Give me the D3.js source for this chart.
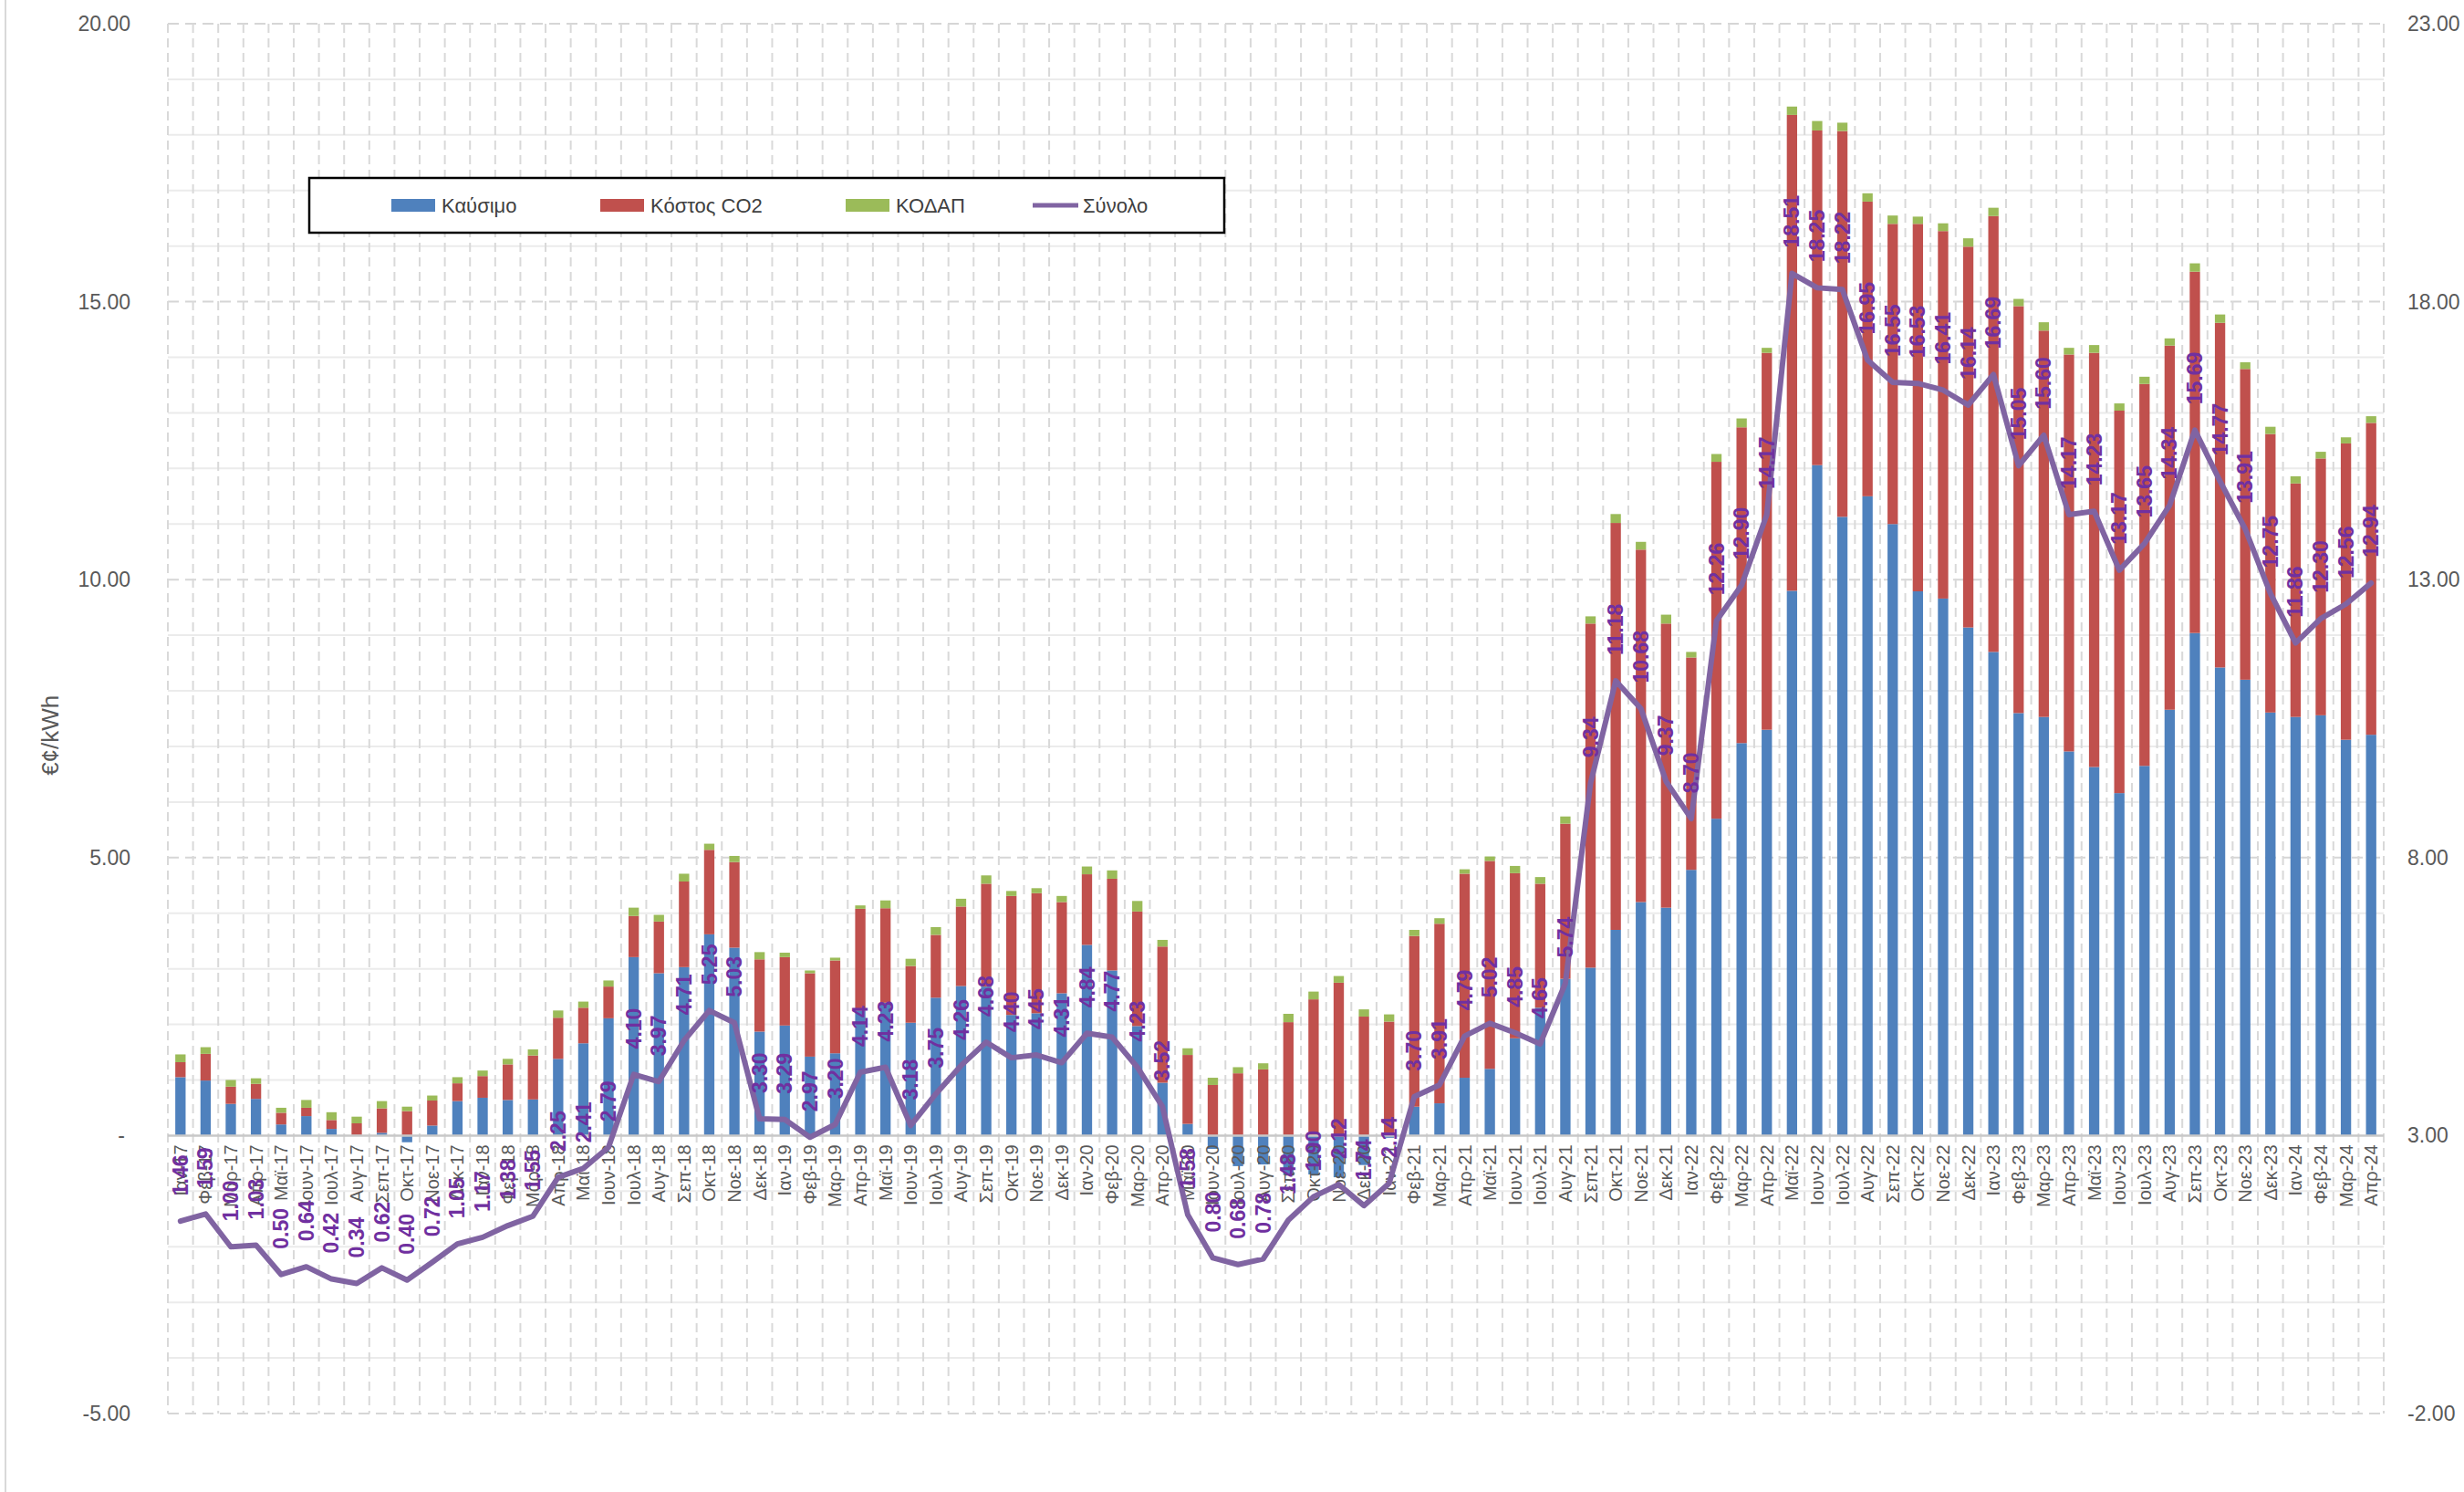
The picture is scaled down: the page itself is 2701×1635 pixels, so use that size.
<!DOCTYPE html>
<html>
<head>
<meta charset="utf-8">
<script src="https://cdn.jsdelivr.net/npm/d3@7"></script>
<style>
  body { margin: 0; background: #fff; }
  svg { display: block; font-family: "Liberation Sans", Arial, sans-serif; }
</style>
</head>
<body>
<svg id="chart"></svg>
<script>
// categories: month labels Jan-17 .. Apr-24
const months = [
  "Ιαν-17","Φεβ-17","Μαρ-17","Απρ-17","Μαϊ-17","Ιουν-17","Ιουλ-17","Αυγ-17","Σεπ-17","Οκτ-17","Νοε-17","Δεκ-17",
  "Ιαν-18","Φεβ-18","Μαρ-18","Απρ-18","Μαϊ-18","Ιουν-18","Ιουλ-18","Αυγ-18","Σεπ-18","Οκτ-18","Νοε-18","Δεκ-18",
  "Ιαν-19","Φεβ-19","Μαρ-19","Απρ-19","Μαϊ-19","Ιουν-19","Ιουλ-19","Αυγ-19","Σεπ-19","Οκτ-19","Νοε-19","Δεκ-19",
  "Ιαν-20","Φεβ-20","Μαρ-20","Απρ-20","Μαϊ-20","Ιουν-20","Ιουλ-20","Αυγ-20","Σεπ-20","Οκτ-20","Νοε-20","Δεκ-20",
  "Ιαν-21","Φεβ-21","Μαρ-21","Απρ-21","Μαϊ-21","Ιουν-21","Ιουλ-21","Αυγ-21","Σεπ-21","Οκτ-21","Νοε-21","Δεκ-21",
  "Ιαν-22","Φεβ-22","Μαρ-22","Απρ-22","Μαϊ-22","Ιουν-22","Ιουλ-22","Αυγ-22","Σεπ-22","Οκτ-22","Νοε-22","Δεκ-22",
  "Ιαν-23","Φεβ-23","Μαρ-23","Απρ-23","Μαϊ-23","Ιουν-23","Ιουλ-23","Αυγ-23","Σεπ-23","Οκτ-23","Νοε-23","Δεκ-23",
  "Ιαν-24","Φεβ-24","Μαρ-24","Απρ-24"
];

// Καύσιμο (blue)
const fuel = [
  1.05, 0.99, 0.57, 0.66, 0.20, 0.35, 0.12, 0.01, 0.05, -0.12, 0.18, 0.62,
  0.68, 0.64, 0.65, 1.38, 1.66, 2.11, 3.21, 2.92, 3.03, 3.62, 3.38, 1.87,
  1.98, 1.42, 1.48, 2.25, 2.39, 2.03, 2.48, 2.69, 2.68, 2.17, 2.20, 2.56,
  3.43, 2.97, 1.97, 0.95, 0.21, -0.24, -0.55, -0.52, -0.71, -0.70, -0.75, -0.53,
  -0.04, 0.52, 0.58, 1.04, 1.20, 1.75, 2.30, 2.82, 3.02, 3.70, 4.20, 4.10,
  4.78, 5.70, 7.06, 7.30, 9.80, 12.06, 11.13, 11.50, 11.00, 9.79, 9.66, 9.14,
  8.70, 7.60, 7.53, 6.91, 6.63, 6.16, 6.65, 7.66, 9.04, 8.42, 8.20, 7.61,
  7.53, 7.56, 7.12, 7.21
];

// Κόστος CO2 (red)
const co2 = [
  0.27, 0.48, 0.31, 0.27, 0.21, 0.15, 0.16, 0.21, 0.44, 0.44, 0.45, 0.32,
  0.39, 0.64, 0.79, 0.74, 0.64, 0.57, 0.74, 0.93, 1.54, 1.52, 1.54, 1.30,
  1.23, 1.50, 1.67, 1.83, 1.70, 1.02, 1.13, 1.43, 1.85, 2.14, 2.16, 1.64,
  1.27, 1.65, 2.06, 2.45, 1.24, 0.91, 1.12, 1.19, 2.04, 2.45, 2.75, 2.14,
  2.05, 3.07, 3.23, 3.67, 3.74, 2.97, 2.23, 2.79, 6.19, 7.32, 6.34, 5.11,
  3.82, 6.42, 5.68, 6.78, 8.56, 6.02, 6.94, 5.30, 5.40, 6.61, 6.61, 6.85,
  7.84, 7.32, 6.95, 7.14, 7.45, 6.88, 6.87, 6.55, 6.50, 6.20, 5.59, 5.01,
  4.20, 4.62, 5.33, 5.61
];

// ΚΟΔΑΠ (green)
const kodap = [
  0.14, 0.12, 0.12, 0.10, 0.09, 0.14, 0.14, 0.12, 0.13, 0.08, 0.09, 0.11,
  0.10, 0.10, 0.11, 0.13, 0.11, 0.11, 0.15, 0.12, 0.14, 0.11, 0.11, 0.13,
  0.08, 0.05, 0.05, 0.06, 0.14, 0.13, 0.14, 0.14, 0.15, 0.09, 0.09, 0.11,
  0.14, 0.15, 0.19, 0.12, 0.12, 0.13, 0.11, 0.11, 0.15, 0.14, 0.12, 0.13,
  0.13, 0.11, 0.10, 0.08, 0.08, 0.13, 0.12, 0.13, 0.13, 0.16, 0.14, 0.16,
  0.10, 0.14, 0.16, 0.09, 0.15, 0.17, 0.15, 0.15, 0.15, 0.13, 0.14, 0.15,
  0.15, 0.13, 0.15, 0.12, 0.14, 0.13, 0.13, 0.13, 0.15, 0.15, 0.12, 0.13,
  0.13, 0.12, 0.11, 0.12
];

// Σύνολο (line, right axis)
const total = [
  1.46, 1.59, 1.00, 1.03, 0.50, 0.64, 0.42, 0.34, 0.62, 0.40, 0.72, 1.05,
  1.17, 1.38, 1.55, 2.25, 2.41, 2.79, 4.10, 3.97, 4.71, 5.25, 5.03, 3.30,
  3.29, 2.97, 3.20, 4.14, 4.23, 3.18, 3.75, 4.26, 4.68, 4.40, 4.45, 4.31,
  4.84, 4.77, 4.23, 3.52, 1.58, 0.80, 0.68, 0.78, 1.48, 1.90, 2.12, 1.74,
  2.14, 3.70, 3.91, 4.79, 5.02, 4.85, 4.65, 5.74, 9.34, 11.18, 10.68, 9.37,
  8.70, 12.26, 12.90, 14.17, 18.51, 18.25, 18.22, 16.95, 16.55, 16.53, 16.41, 16.14,
  16.69, 15.05, 15.60, 14.17, 14.23, 13.17, 13.65, 14.34, 15.69, 14.77, 13.91, 12.75,
  11.86, 12.30, 12.56, 12.94
];

const leftTicks = [-5, 0, 5, 10, 15, 20];
const rightTicks = [-2, 3, 8, 13, 18, 23];
const seriesKeys = ["fuel", "co2", "kodap"];
const seriesNames = ["Καύσιμο", "Κόστος CO2", "ΚΟΔΑΠ", "Σύνολο"];
const colors = ["#4F81BD", "#C0504D", "#9BBB59", "#8064A2"];

const width = 2701, height = 1635;
const margin = {top: 26, right: 88, bottom: 86, left: 184};
const plotW = width - margin.left - margin.right,
  plotH = height - margin.top - margin.bottom;

const svg = d3.select("#chart")
  .attr("width", width)
  .attr("height", height);

svg.append("rect").attr("width", width).attr("height", height).attr("fill", "#fff");
// chart area border on the left
svg.append("line")
  .attr("x1", 6).attr("x2", 6).attr("y1", 0).attr("y2", height)
  .attr("stroke", "#d9d9d9").attr("stroke-width", 2);

const g = svg.append("g")
  .attr("transform", `translate(${margin.left},${margin.top})`);

const x = d3.scaleBand().domain(months).range([0, plotW]).padding(0);
const y = d3.scaleLinear().domain([-5, 20]).range([plotH, 0]);
const y2 = d3.scaleLinear().domain([-2, 23]).range([plotH, 0]);
const barW = x.bandwidth() * 0.41;
const cx = m => x(m) + x.bandwidth() / 2;

// horizontal grid: minor every unit, dashed at the major ticks
const grid = g.append("g");
grid.selectAll(".minor").data(d3.range(-5, 21).filter(v => v % 5 !== 0))
  .enter().append("line")
  .attr("class", "minor")
  .attr("x1", 0).attr("x2", plotW)
  .attr("y1", d => y(d)).attr("y2", d => y(d))
  .attr("stroke", "#ebebeb").attr("stroke-width", 2);
grid.selectAll(".major").data(leftTicks.filter(v => v !== 0))
  .enter().append("line")
  .attr("class", "major")
  .attr("x1", 0).attr("x2", plotW)
  .attr("y1", d => y(d)).attr("y2", d => y(d))
  .attr("stroke", "#d6d6d6").attr("stroke-width", 2)
  .attr("stroke-dasharray", "12,7");
// vertical dashed grid at each category boundary
grid.selectAll(".vgrid").data(d3.range(months.length + 1))
  .enter().append("line")
  .attr("class", "vgrid")
  .attr("x1", i => i * x.step()).attr("x2", i => i * x.step())
  .attr("y1", 0).attr("y2", plotH)
  .attr("stroke", "#d9d9d9").attr("stroke-width", 2)
  .attr("stroke-dasharray", "10,6");

// stacked bars
const rows = months.map((m, i) => ({m, fuel: fuel[i], co2: co2[i], kodap: kodap[i]}));
const stacked = d3.stack().keys(seriesKeys).offset(d3.stackOffsetDiverging)(rows);

g.append("g").selectAll("g").data(stacked)
  .enter().append("g")
  .attr("fill", (d, i) => colors[i])
  .selectAll("rect").data(d => d)
  .enter().append("rect")
  .attr("x", d => cx(d.data.m) - barW / 2)
  .attr("width", barW)
  .attr("y", d => y(Math.max(d[0], d[1])))
  .attr("height", d => Math.abs(y(d[0]) - y(d[1])));

// zero axis
g.append("line")
  .attr("x1", 0).attr("x2", plotW)
  .attr("y1", y(0)).attr("y2", y(0))
  .attr("stroke", "#c8c8c8").attr("stroke-width", 2.5);

// category labels
g.append("g").selectAll("text").data(months)
  .enter().append("text")
  .attr("transform", d => `translate(${cx(d)},${y(0) + 10}) rotate(-90)`)
  .attr("text-anchor", "end")
  .attr("dy", "0.35em")
  .attr("font-size", 20)
  .attr("fill", "#595959")
  .text(d => d);

// total line on the right axis
const line = d3.line()
  .x((d, i) => cx(months[i]))
  .y(d => y2(d));
g.append("path")
  .datum(total)
  .attr("d", line)
  .attr("fill", "none")
  .attr("stroke", colors[3])
  .attr("stroke-width", 6)
  .attr("stroke-linejoin", "round")
  .attr("stroke-linecap", "round");

// data labels for the line
g.append("g").selectAll("text").data(total)
  .enter().append("text")
  .attr("transform", (d, i) => `translate(${cx(months[i])},${y2(d) - 28}) rotate(-90)`)
  .attr("text-anchor", "start")
  .attr("dy", "0.35em")
  .attr("font-size", 23)
  .attr("font-weight", "bold")
  .attr("fill", "#7030A0")
  .text(d => d.toFixed(2));

// left axis labels
g.append("g").selectAll("text").data(leftTicks)
  .enter().append("text")
  .attr("x", d => d === 0 ? -47 : -41)
  .attr("y", d => y(d))
  .attr("dy", "0.35em")
  .attr("text-anchor", "end")
  .attr("font-size", 23)
  .attr("fill", "#595959")
  .text(d => d === 0 ? "-" : d.toFixed(2));

// right axis labels
g.append("g").selectAll("text").data(rightTicks)
  .enter().append("text")
  .attr("x", plotW + 26)
  .attr("y", d => y2(d))
  .attr("dy", "0.35em")
  .attr("text-anchor", "start")
  .attr("font-size", 23)
  .attr("fill", "#595959")
  .text(d => d.toFixed(2));

// y axis title
svg.append("text")
  .attr("transform", `translate(55,${margin.top + y(7.2)}) rotate(-90)`)
  .attr("text-anchor", "middle")
  .attr("dy", "0.35em")
  .attr("font-size", 26)
  .attr("fill", "#595959")
  .text("€¢/kWh");

// legend
const legend = svg.append("g").attr("transform", "translate(339,195)");
legend.append("rect")
  .attr("width", 1003).attr("height", 60)
  .attr("fill", "#fff").attr("stroke", "#000").attr("stroke-width", 2.5);
const legendX = [90, 319, 588, 793];
const item = legend.selectAll(".item").data(seriesNames)
  .enter().append("g")
  .attr("class", "item")
  .attr("transform", (d, i) => `translate(${legendX[i]},30)`);
item.filter((d, i) => i < 3).append("rect")
  .attr("x", 0).attr("y", -7).attr("width", 48).attr("height", 14)
  .attr("fill", (d, i) => colors[i]);
item.filter((d, i) => i === 3).append("line")
  .attr("x1", 0).attr("x2", 50).attr("y1", 0).attr("y2", 0)
  .attr("stroke", colors[3]).attr("stroke-width", 5);
item.append("text")
  .attr("x", 55).attr("y", 0).attr("dy", "0.35em")
  .attr("font-size", 22)
  .attr("fill", "#404040")
  .text(d => d);
</script>
</body>
</html>
